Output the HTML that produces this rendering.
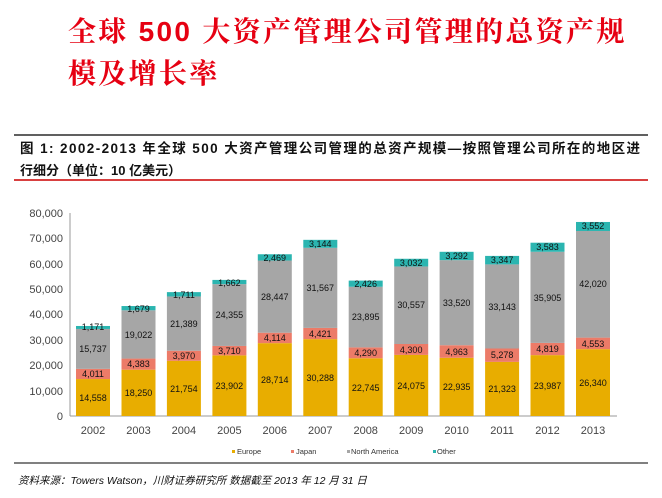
<!DOCTYPE html>
<html><head><meta charset="utf-8"><style>
body{margin:0;background:#fff;width:662px;height:498px;overflow:hidden;font-family:"Liberation Sans","Noto Sans CJK SC",sans-serif}
.t{position:absolute;left:68px;color:#e60012;font-weight:bold;font-size:28px;font-family:"Liberation Sans","Noto Serif CJK SC",serif;letter-spacing:2.3px}
</style></head><body>
<div class="t" style="top:10px">全球 500 大资产管理公司管理的总资产规</div>
<div class="t" style="top:52px">模及增长率</div>
<svg width="662" height="498" style="position:absolute;left:0;top:0" font-family="Liberation Sans, Noto Sans CJK SC, sans-serif">
<line x1="14" y1="135" x2="648" y2="135" stroke="#000" stroke-width="1.2"/>
<text x="20" y="153" font-size="13.5" font-weight="bold" fill="#111" textLength="620" lengthAdjust="spacing">图 1:  2002-2013 年全球 500 大资产管理公司管理的总资产规模—按照管理公司所在的地区进</text>
<text x="20" y="175" font-size="13" font-weight="bold" fill="#111">行细分（单位：10 亿美元）</text>
<line x1="14" y1="180" x2="648" y2="180" stroke="#c00" stroke-width="1.5"/>
<g font-size="11" fill="#444" text-anchor="end">
<text x="63" y="420">0</text><text x="63" y="395">10,000</text><text x="63" y="369">20,000</text><text x="63" y="344">30,000</text><text x="63" y="318">40,000</text><text x="63" y="293">50,000</text><text x="63" y="268">60,000</text><text x="63" y="242">70,000</text><text x="63" y="217">80,000</text>
</g>
<line x1="70" y1="213" x2="70" y2="416" stroke="#999"/>
<line x1="70" y1="416" x2="617" y2="416" stroke="#999"/>
<g id="bars">
<rect x="76" y="379.06" width="34" height="36.94" fill="#e8ad00"/><rect x="76" y="368.88" width="34" height="10.18" fill="#ec7b68"/><rect x="76" y="328.95" width="34" height="39.93" fill="#a6a6a6"/><rect x="76" y="325.98" width="34" height="2.97" fill="#2bb5b0"/>
<rect x="121.5" y="369.69" width="34" height="46.31" fill="#e8ad00"/><rect x="121.5" y="358.57" width="34" height="11.12" fill="#ec7b68"/><rect x="121.5" y="310.30" width="34" height="48.27" fill="#a6a6a6"/><rect x="121.5" y="306.04" width="34" height="4.26" fill="#2bb5b0"/>
<rect x="166.9" y="360.80" width="34" height="55.20" fill="#e8ad00"/><rect x="166.9" y="350.73" width="34" height="10.07" fill="#ec7b68"/><rect x="166.9" y="296.46" width="34" height="54.27" fill="#a6a6a6"/><rect x="166.9" y="292.12" width="34" height="4.34" fill="#2bb5b0"/>
<rect x="212.4" y="355.35" width="34" height="60.65" fill="#e8ad00"/><rect x="212.4" y="345.94" width="34" height="9.41" fill="#ec7b68"/><rect x="212.4" y="284.14" width="34" height="61.80" fill="#a6a6a6"/><rect x="212.4" y="279.92" width="34" height="4.22" fill="#2bb5b0"/>
<rect x="257.8" y="343.14" width="34" height="72.86" fill="#e8ad00"/><rect x="257.8" y="332.70" width="34" height="10.44" fill="#ec7b68"/><rect x="257.8" y="260.52" width="34" height="72.18" fill="#a6a6a6"/><rect x="257.8" y="254.25" width="34" height="6.27" fill="#2bb5b0"/>
<rect x="303.3" y="339.14" width="34" height="76.86" fill="#e8ad00"/><rect x="303.3" y="327.92" width="34" height="11.22" fill="#ec7b68"/><rect x="303.3" y="247.82" width="34" height="80.10" fill="#a6a6a6"/><rect x="303.3" y="239.84" width="34" height="7.98" fill="#2bb5b0"/>
<rect x="348.7" y="358.28" width="34" height="57.72" fill="#e8ad00"/><rect x="348.7" y="347.39" width="34" height="10.89" fill="#ec7b68"/><rect x="348.7" y="286.76" width="34" height="60.63" fill="#a6a6a6"/><rect x="348.7" y="280.60" width="34" height="6.16" fill="#2bb5b0"/>
<rect x="394.2" y="354.91" width="34" height="61.09" fill="#e8ad00"/><rect x="394.2" y="344.00" width="34" height="10.91" fill="#ec7b68"/><rect x="394.2" y="266.46" width="34" height="77.54" fill="#a6a6a6"/><rect x="394.2" y="258.77" width="34" height="7.69" fill="#2bb5b0"/>
<rect x="439.6" y="357.80" width="34" height="58.20" fill="#e8ad00"/><rect x="439.6" y="345.21" width="34" height="12.59" fill="#ec7b68"/><rect x="439.6" y="260.15" width="34" height="85.06" fill="#a6a6a6"/><rect x="439.6" y="251.80" width="34" height="8.35" fill="#2bb5b0"/>
<rect x="485.1" y="361.89" width="34" height="54.11" fill="#e8ad00"/><rect x="485.1" y="348.50" width="34" height="13.39" fill="#ec7b68"/><rect x="485.1" y="264.40" width="34" height="84.10" fill="#a6a6a6"/><rect x="485.1" y="255.91" width="34" height="8.49" fill="#2bb5b0"/>
<rect x="530.5" y="355.13" width="34" height="60.87" fill="#e8ad00"/><rect x="530.5" y="342.90" width="34" height="12.23" fill="#ec7b68"/><rect x="530.5" y="251.79" width="34" height="91.11" fill="#a6a6a6"/><rect x="530.5" y="242.70" width="34" height="9.09" fill="#2bb5b0"/>
<rect x="576" y="349.16" width="34" height="66.84" fill="#e8ad00"/><rect x="576" y="337.61" width="34" height="11.55" fill="#ec7b68"/><rect x="576" y="230.98" width="34" height="106.63" fill="#a6a6a6"/><rect x="576" y="221.97" width="34" height="9.01" fill="#2bb5b0"/>
</g>
<g font-size="9" fill="#111" text-anchor="middle">
<text x="93" y="401">14,558</text><text x="93" y="377">4,011</text><text x="93" y="352">15,737</text><text x="93" y="330">1,171</text>
<text x="138.5" y="396">18,250</text><text x="138.5" y="367">4,383</text><text x="138.5" y="338">19,022</text><text x="138.5" y="312">1,679</text>
<text x="183.9" y="392">21,754</text><text x="183.9" y="359">3,970</text><text x="183.9" y="327">21,389</text><text x="183.9" y="298">1,711</text>
<text x="229.4" y="389">23,902</text><text x="229.4" y="354">3,710</text><text x="229.4" y="318">24,355</text><text x="229.4" y="286">1,662</text>
<text x="274.8" y="383">28,714</text><text x="274.8" y="341">4,114</text><text x="274.8" y="300">28,447</text><text x="274.8" y="261">2,469</text>
<text x="320.3" y="381">30,288</text><text x="320.3" y="337">4,421</text><text x="320.3" y="291">31,567</text><text x="320.3" y="247">3,144</text>
<text x="365.7" y="391">22,745</text><text x="365.7" y="356">4,290</text><text x="365.7" y="320">23,895</text><text x="365.7" y="287">2,426</text>
<text x="411.2" y="389">24,075</text><text x="411.2" y="353">4,300</text><text x="411.2" y="308">30,557</text><text x="411.2" y="266">3,032</text>
<text x="456.6" y="390">22,935</text><text x="456.6" y="355">4,963</text><text x="456.6" y="306">33,520</text><text x="456.6" y="259">3,292</text>
<text x="502.1" y="392">21,323</text><text x="502.1" y="358">5,278</text><text x="502.1" y="310">33,143</text><text x="502.1" y="263">3,347</text>
<text x="547.5" y="389">23,987</text><text x="547.5" y="352">4,819</text><text x="547.5" y="301">35,905</text><text x="547.5" y="250">3,583</text>
<text x="593" y="386">26,340</text><text x="593" y="347">4,553</text><text x="593" y="287">42,020</text><text x="593" y="229">3,552</text>
</g>
<g font-size="11" fill="#444" text-anchor="middle">
<text x="93" y="434">2002</text><text x="138.5" y="434">2003</text><text x="183.9" y="434">2004</text><text x="229.4" y="434">2005</text><text x="274.8" y="434">2006</text><text x="320.3" y="434">2007</text><text x="365.7" y="434">2008</text><text x="411.2" y="434">2009</text><text x="456.6" y="434">2010</text><text x="502.1" y="434">2011</text><text x="547.5" y="434">2012</text><text x="593" y="434">2013</text>
</g>
<g font-size="7.5" fill="#333">
<rect x="232" y="450" width="3" height="3" fill="#e8ad00"/><text x="237" y="454">Europe</text>
<rect x="291" y="450" width="3" height="3" fill="#ec7b68"/><text x="296" y="454">Japan</text>
<rect x="347" y="450" width="3" height="3" fill="#a6a6a6"/><text x="351" y="454">North America</text>
<rect x="433" y="450" width="3" height="3" fill="#2bb5b0"/><text x="437" y="454">Other</text>
</g>
<line x1="14" y1="463" x2="648" y2="463" stroke="#000" stroke-width="1"/>
<text x="18" y="484" font-size="10.5" font-style="italic" fill="#111">资料来源：Towers Watson，川财证券研究所  数据截至 2013 年 12 月 31 日</text>
</svg>
</body></html>
